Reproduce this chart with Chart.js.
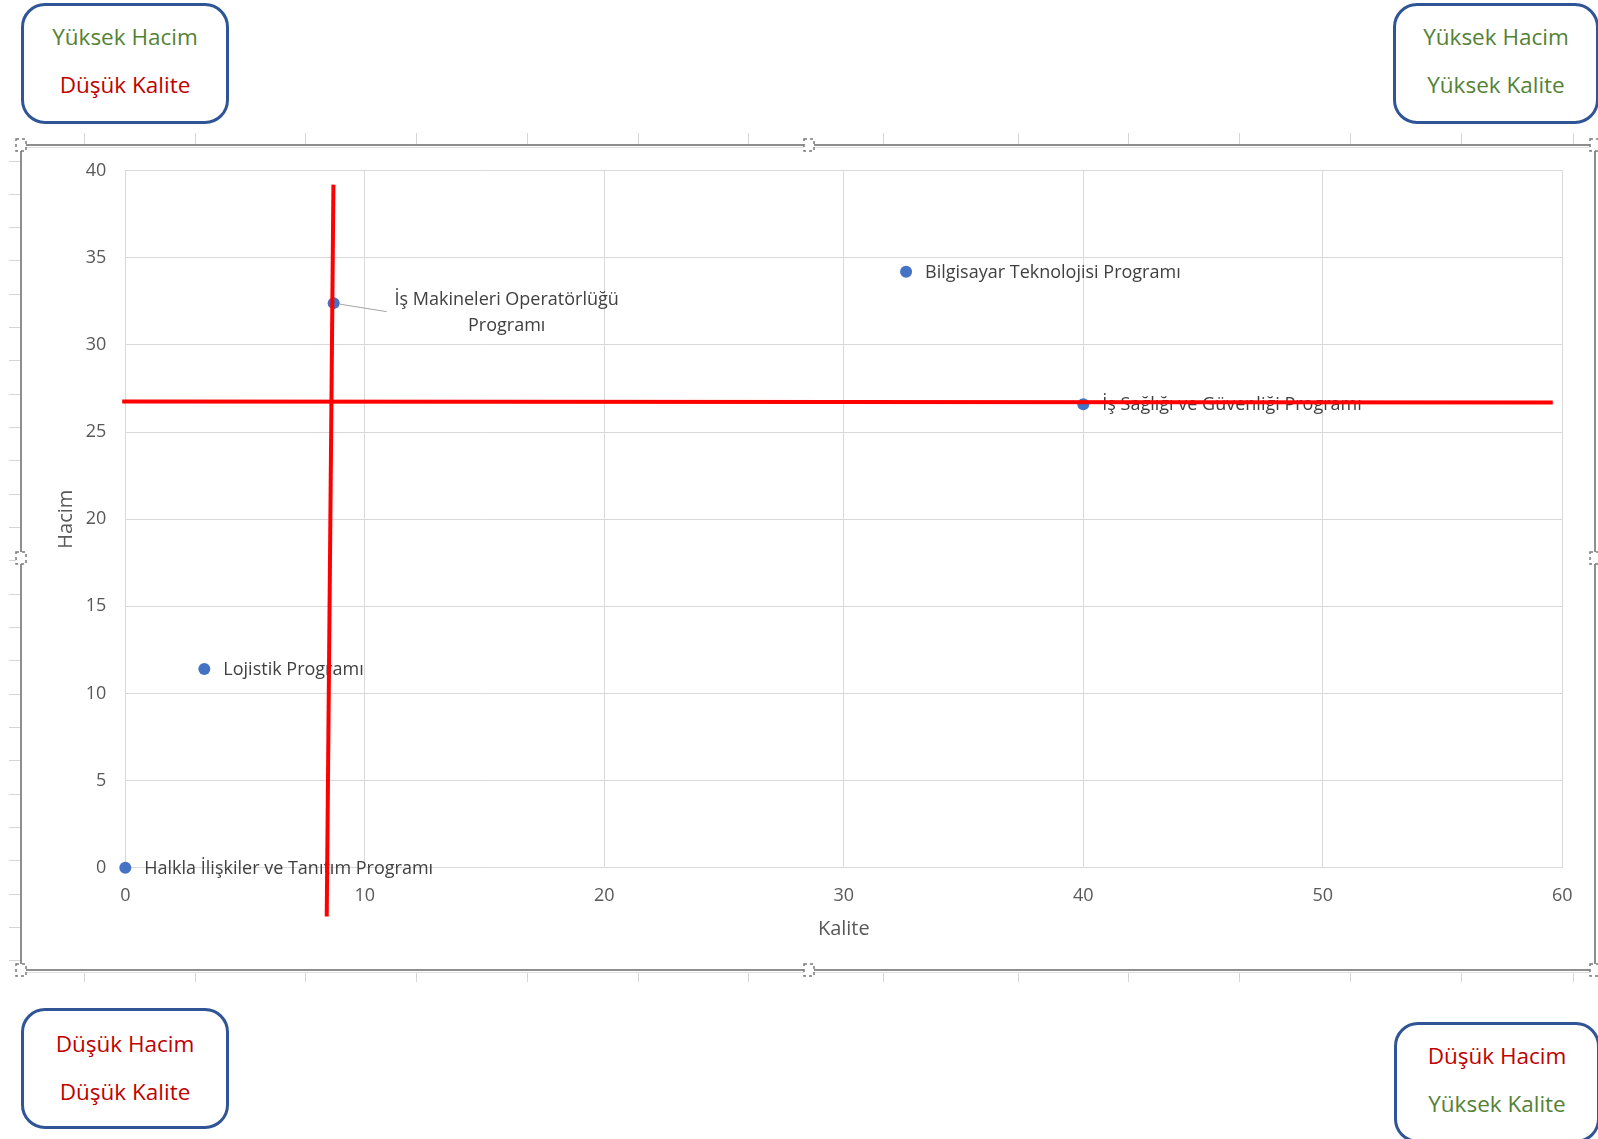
<!DOCTYPE html>
<html lang="tr">
<head>
<meta charset="utf-8">
<title>Kalite / Hacim</title>
<script src="https://cdn.jsdelivr.net/npm/chart.js@4.4.1/dist/chart.umd.min.js"></script>
<style>
  html, body { margin: 0; padding: 0; background: #fff; overflow: hidden; }
  #sayfa { position: relative; width: 1598px; height: 1139px; }
  #grafik { position: absolute; left: 0; top: 0; }
  .kutu {
    position: absolute; box-sizing: border-box; width: 208px; height: 121px;
    border: 3px solid #2F5597; border-radius: 24px; background: #fff;
    font-family: 'Open Sans', sans-serif; font-size: 22.5px;
    text-align: center; line-height: 48px;
  }
  .yesil { color: #548235; }
  .kirmizi { color: #C00000; }
</style>
</head>
<body>
<div id="sayfa">
  <canvas id="grafik" width="1598" height="1139"></canvas>

  <div class="kutu" style="left:21px; top:3px; padding-top:7px;">
    <div class="yesil">Yüksek Hacim</div>
    <div class="kirmizi">Düşük Kalite</div>
  </div>
  <div class="kutu" style="left:1393px; top:3px; width:206px; padding-top:7px;">
    <div class="yesil">Yüksek Hacim</div>
    <div class="yesil">Yüksek Kalite</div>
  </div>
  <div class="kutu" style="left:21px; top:1008px; padding-top:9px;">
    <div class="kirmizi">Düşük Hacim</div>
    <div class="kirmizi">Düşük Kalite</div>
  </div>
  <div class="kutu" style="left:1394px; top:1022px; width:206px; padding-top:7px;">
    <div class="kirmizi">Düşük Hacim</div>
    <div class="yesil">Yüksek Kalite</div>
  </div>
</div>

<script>
// veriler
const programlar = [
  'Halkla İlişkiler ve Tanıtım Programı',
  'Lojistik Programı',
  ['İş Makineleri Operatörlüğü', 'Programı'],
  'Bilgisayar Teknolojisi Programı',
  'İş Sağlığı ve Güvenliği Programı'
];
const kalite = [0, 3.3, 8.7, 32.6, 40];
const hacim = [0, 11.4, 32.4, 34.2, 26.6];

// elle çizilmiş kırmızı çizgiler (eksen değerleriyle)
const dikeyKalite = [8.69, 8.41];
const dikeyHacim = [39.2, -2.8];
const yatayKalite = [-0.13, 59.6];
const yatayHacim = [26.75, 26.7];

const kaliteTicks = [0, 10, 20, 30, 40, 50, 60];
const hacimTicks = [0, 5, 10, 15, 20, 25, 30, 35, 40];

// excel sayfa kenarları, tutamaçlar
const sutunlar = [83.6, 194.6, 304.7, 415.8, 526.9, 638, 748, 882.5, 1018, 1128, 1239, 1350, 1461, 1572.5];

const cerceve = {
  id: 'cerceve',
  beforeDraw(chart) {
    const c = chart.ctx;
    const cizgi = (x1, y1, x2, y2) => { c.beginPath(); c.moveTo(x1, y1); c.lineTo(x2, y2); c.stroke(); };
    c.save();
    c.fillStyle = '#fff';
    c.fillRect(0, 0, chart.width, chart.height);

    c.strokeStyle = '#D6D6D6';
    c.lineWidth = 1;
    for (let y = 160.5; y < 968; y += 33.33) cizgi(9, Math.round(y) + 0.5, 21, Math.round(y) + 0.5);
    for (const x of sutunlar) {
      cizgi(Math.round(x) + 0.5, 133, Math.round(x) + 0.5, 144);
      cizgi(Math.round(x) + 0.5, 972, Math.round(x) + 0.5, 982);
    }

    // grafik alanı kenarlığı
    c.strokeStyle = '#E0E0E0';
    cizgi(21, 147.5, 1595, 147.5);
    cizgi(21, 972.5, 1595, 972.5);
    c.strokeStyle = '#8E8E8E';
    c.lineWidth = 2;
    cizgi(21, 145, 1595, 145);
    cizgi(21, 970, 1595, 970);
    cizgi(21, 145, 21, 970);
    cizgi(1595, 145, 1595, 970);

    const tutamaclar = [[21, 145], [809, 145], [1595, 145], [21, 558], [1595, 558], [21, 970], [809, 970], [1595, 970]];
    c.lineWidth = 1.5;
    c.setLineDash([3, 3]);
    for (const [x, y] of tutamaclar) {
      c.fillStyle = '#fff';
      c.fillRect(x - 5, y - 6, 10, 12);
      c.strokeStyle = '#7A7A7A';
      c.strokeRect(x - 5, y - 6, 10, 12);
    }
    c.restore();
  }
};

const etiketler = {
  id: 'etiketler',
  afterDatasetDraw(chart, args) {
    if (args.index !== 2) return;
    const c = chart.ctx;
    c.save();
    c.font = '18px "Open Sans"';
    c.fillStyle = '#404040';
    c.textBaseline = 'alphabetic';
    args.meta.data.forEach((p, i) => {
      const t = programlar[i];
      if (Array.isArray(t)) {
        c.strokeStyle = '#A6A6A6';
        c.lineWidth = 1;
        c.beginPath();
        c.moveTo(p.x + 6, p.y + 1);
        c.lineTo(p.x + 53, p.y + 8.5);
        c.stroke();
        c.textAlign = 'center';
        c.fillText(t[0], p.x + 173, p.y + 2);
        c.fillText(t[1], p.x + 173, p.y + 28);
      } else {
        c.textAlign = 'left';
        c.fillText(t, p.x + 19, p.y + 6);
      }
    });
    c.restore();
  }
};

const eksenYazi = { family: 'Open Sans', size: 18 };

new Chart(document.getElementById('grafik'), {
  type: 'scatter',
  data: {
    datasets: [
      {
        type: 'line',
        data: dikeyKalite.map((k, i) => ({ x: k, y: dikeyHacim[i] })),
        borderColor: '#FF0000', borderWidth: 4, pointRadius: 0, fill: false, clip: false
      },
      {
        type: 'line',
        data: yatayKalite.map((k, i) => ({ x: k, y: yatayHacim[i] })),
        borderColor: '#FF0000', borderWidth: 4, pointRadius: 0, fill: false, clip: false
      },
      {
        data: kalite.map((k, i) => ({ x: k, y: hacim[i] })),
        backgroundColor: '#4472C4', borderWidth: 0, pointRadius: 6, clip: false
      }
    ]
  },
  options: {
    responsive: false,
    maintainAspectRatio: false,
    animation: false,
    layout: { padding: { left: 40, top: 170.7, right: 35.7, bottom: 194 } },
    plugins: { legend: { display: false }, tooltip: { enabled: false } },
    scales: {
      x: {
        type: 'linear', min: 0, max: 60,
        afterBuildTicks: s => { s.ticks = kaliteTicks.map(v => ({ value: v })); },
        afterFit: s => { s.height = 77.3; },
        grid: { color: '#D9D9D9', drawTicks: false },
        border: { display: false },
        ticks: { padding: 17.5, color: '#595959', font: eksenYazi },
        title: { display: true, text: 'Kalite', color: '#595959', font: { family: 'Open Sans', size: 20 }, padding: { top: 0, bottom: 4 } }
      },
      y: {
        type: 'linear', min: 0, max: 40,
        afterBuildTicks: s => { s.ticks = hacimTicks.map(v => ({ value: v })); },
        afterFit: s => { s.width = 85.3; },
        grid: { color: '#D9D9D9', drawTicks: false },
        border: { display: false },
        ticks: { padding: 19, color: '#595959', font: eksenYazi },
        title: { display: true, text: 'Hacim', color: '#595959', font: { family: 'Open Sans', size: 20 }, padding: { top: 14, bottom: 0 } }
      }
    }
  },
  plugins: [cerceve, etiketler]
});
</script>
</body>
</html>
